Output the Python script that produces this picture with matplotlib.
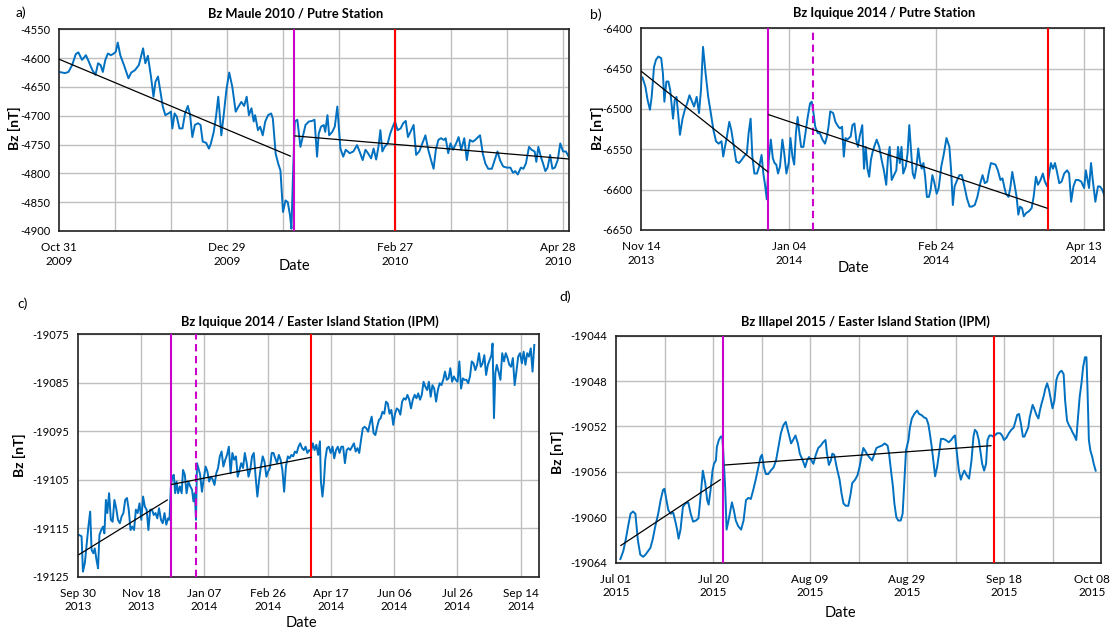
import matplotlib
matplotlib.use("Agg")
import matplotlib.pyplot as plt
import matplotlib.transforms as mtransforms
import numpy as np

plt.rcParams['font.family'] = ['Lato', 'DejaVu Sans']
plt.rcParams['axes.unicode_minus'] = False

# ---------------- Panel a: Bz Maule 2010 / Putre (days since 2009-10-31) ----------------
a_day = [0, 2.0, 3.3, 4.6, 5.9, 6.8, 8.1, 9.5, 10.5, 11.8,
         12.9, 13.8, 14.7, 15.5, 16.4, 17.3, 18.4, 19.4, 20.1, 20.8,
         21.7, 23.0, 24.6, 25.6, 26.9, 28.3, 29.8, 30.6, 31.5, 32.6,
         33.5, 34.2, 35.1, 35.7, 36.8, 37.7, 38.8, 39.7, 40.2, 41.0,
         41.8, 42.7, 43.8, 44.7, 45.7, 46.5, 47.3, 48.2, 49.3, 50.2,
         51.0, 52.2, 53.2, 53.9, 54.9, 55.7, 56.5, 57.0, 57.6, 58.5,
         59.4, 60.4, 61.5, 62.7, 63.7, 64.7, 65.7, 66.6, 67.4, 68.3,
         69.1, 69.6, 70.6, 71.4, 72.3, 73.2, 74.2, 75.3, 75.9, 76.9,
         77.8, 78.6, 79.5, 80.4, 81.2, 82.0, 82.5, 83.0, 83.7, 84.6,
         85.7, 86.5, 87.5, 88.7, 89.8, 90.7, 91.6, 92.2, 93.0, 94.0,
         94.5, 95.3, 95.9, 97.0, 97.9, 98.8, 99.9, 100.9, 101.8, 103.2,
         104.5, 105.8, 106.7, 107.8, 108.8, 109.7, 110.8, 111.7, 112.6, 113.4,
         114.1, 114.8, 115.6, 116.7, 117.6, 118.5, 119.3, 120.2, 121.3, 122.2,
         123.1, 123.9, 124.8, 125.9, 126.8, 127.9, 129.0, 130.1, 131.1, 132.1,
         133.0, 133.8, 134.7, 135.6, 136.7, 137.3, 138.2, 139.0, 139.9, 141.0,
         141.9, 142.8, 143.9, 144.8, 145.9, 146.9, 147.8, 148.8, 149.5, 150.5,
         151.4, 152.4, 153.7, 154.7, 155.7, 156.6, 157.7, 159.0, 160.3, 161.2,
         162.0, 162.9, 164.0, 164.9, 165.8, 166.9, 167.8, 168.9, 169.5, 170.2,
         171.1, 171.9, 172.7, 173.5, 174.4, 175.2, 176.1, 177.1, 178.0, 179.0,
         180.0, 181.0]
a_bz = [-4624, -4626, -4624, -4612, -4593, -4590, -4603, -4595, -4606, -4621,
        -4629, -4609, -4612, -4624, -4603, -4592, -4595, -4592, -4589, -4573,
        -4595, -4612, -4635, -4625, -4621, -4612, -4583, -4609, -4596, -4632,
        -4667, -4641, -4632, -4650, -4684, -4699, -4696, -4693, -4722, -4696,
        -4702, -4722, -4722, -4696, -4683, -4699, -4737, -4716, -4713, -4716,
        -4745, -4747, -4757, -4748, -4728, -4702, -4667, -4696, -4734, -4696,
        -4655, -4625, -4650, -4693, -4684, -4676, -4683, -4667, -4699, -4687,
        -4710, -4699, -4725, -4719, -4734, -4710, -4699, -4696, -4705, -4766,
        -4783, -4795, -4867, -4847, -4850, -4873, -4896, -4812, -4710, -4707,
        -4754, -4737, -4716, -4710, -4709, -4707, -4771, -4731, -4719, -4716,
        -4728, -4699, -4734, -4728, -4719, -4684, -4757, -4771, -4759, -4765,
        -4762, -4751, -4762, -4777, -4759, -4765, -4774, -4757, -4776, -4754,
        -4725, -4762, -4754, -4748, -4731, -4719, -4710, -4725, -4722, -4713,
        -4709, -4737, -4728, -4716, -4768, -4762, -4748, -4734, -4759, -4777,
        -4792, -4759, -4742, -4739, -4742, -4739, -4765, -4748, -4759, -4748,
        -4737, -4759, -4739, -4777, -4742, -4745, -4742, -4737, -4734, -4766,
        -4783, -4792, -4792, -4777, -4762, -4777, -4788, -4790, -4790, -4799,
        -4796, -4802, -4790, -4792, -4783, -4754, -4759, -4762, -4780, -4754,
        -4771, -4783, -4796, -4790, -4768, -4792, -4790, -4777, -4748, -4762,
        -4762, -4771]
a_trend1_x = [0, 82.1]
a_trend1_y = [-4602, -4770]
a_trend2_x = [83.7, 181]
a_trend2_y = [-4735, -4775]
a_magenta = 83.4
a_red = 119.3
a_tick_labels = ['Oct 31\n2009', 'Dec 29\n2009', 'Feb 27\n2010', 'Apr 28\n2010']

# ---------------- Panel b: Bz Iquique 2014 / Putre (days since 2013-11-14) ----------------
b_day = [0.5, 1.5, 2.3, 3.1, 3.7, 4.5, 5.2, 6.0, 7.0, 7.6,
         8.1, 8.8, 9.5, 10.1, 11.1, 11.7, 12.3, 12.9, 13.5, 14.4,
         15.2, 16.0, 16.8, 17.7, 18.4, 19.3, 20.1, 20.8, 21.5, 22.4,
         23.3, 24.2, 25.1, 26.0, 26.9, 27.9, 28.5, 29.1, 29.7, 30.6,
         31.3, 32.2, 33.0, 34.0, 34.9, 35.9, 36.7, 37.3, 38.0, 38.6,
         39.3, 40.2, 41.0, 41.8, 42.4, 43.0, 43.6, 44.3, 45.0, 45.7,
         46.3, 46.9, 47.5, 48.2, 49.0, 49.6, 50.4, 51.2, 51.8, 52.5,
         53.1, 53.7, 54.3, 54.9, 55.5, 56.3, 57.0, 57.7, 58.6, 59.2,
         59.8, 60.4, 61.3, 62.0, 62.9, 63.8, 64.4, 65.0, 65.6, 66.6,
         67.4, 68.4, 69.0, 69.7, 70.3, 70.9, 71.5, 72.1, 72.7, 73.3,
         74.0, 74.6, 75.2, 75.8, 76.7, 77.3, 77.9, 78.5, 79.1, 79.7,
         80.3, 81.0, 81.7, 82.6, 83.4, 84.2, 85.0, 85.6, 86.2, 86.9,
         87.7, 88.5, 89.1, 89.7, 90.3, 90.9, 91.8, 92.4, 93.0, 93.6,
         94.2, 94.8, 95.5, 96.1, 96.7, 97.3, 97.9, 98.5, 99.1, 99.8,
         100.4, 101.0, 101.6, 102.5, 103.2, 104.1, 104.9, 105.9, 106.9, 107.5,
         108.1, 108.7, 109.6, 110.4, 111.2, 112.0, 113.0, 113.9, 114.7, 115.7,
         116.6, 117.6, 118.4, 119.2, 120.0, 120.6, 121.3, 122.1, 122.9, 123.7,
         124.6, 125.3, 125.9, 126.5, 127.4, 128.0, 128.7, 129.5, 130.2, 130.8,
         131.4, 132.1, 132.7, 133.5, 134.4, 135.4, 136.1, 136.9, 137.6, 138.5,
         139.3, 140.0, 140.8, 141.5, 142.1, 142.8, 143.5, 144.2, 145.0, 145.8,
         146.7, 147.7, 148.4, 149.1, 149.9, 150.7, 151.6, 152.6, 153.6, 154.2,
         154.8, 155.3, 156.0, 156.6, 157.5, 158.4, 159.1, 159.9, 160.6]
b_bz = [-6461, -6472, -6489, -6501, -6485, -6448, -6439, -6435, -6437, -6456,
        -6491, -6466, -6466, -6476, -6512, -6489, -6485, -6507, -6532, -6512,
        -6501, -6493, -6483, -6491, -6497, -6485, -6505, -6476, -6423, -6456,
        -6485, -6505, -6526, -6540, -6543, -6540, -6559, -6547, -6536, -6516,
        -6526, -6547, -6565, -6567, -6563, -6558, -6555, -6530, -6512, -6559,
        -6580, -6580, -6571, -6557, -6580, -6594, -6612, -6563, -6538, -6561,
        -6567, -6569, -6580, -6571, -6538, -6553, -6580, -6567, -6536, -6559,
        -6569, -6530, -6510, -6530, -6547, -6547, -6530, -6512, -6493, -6491,
        -6505, -6522, -6530, -6530, -6538, -6543, -6535, -6522, -6503, -6505,
        -6516, -6522, -6524, -6522, -6559, -6536, -6538, -6536, -6534, -6520,
        -6518, -6538, -6547, -6534, -6520, -6574, -6547, -6574, -6584, -6563,
        -6553, -6545, -6538, -6547, -6563, -6576, -6594, -6561, -6547, -6588,
        -6582, -6576, -6547, -6567, -6547, -6580, -6571, -6555, -6520, -6551,
        -6580, -6586, -6571, -6549, -6565, -6574, -6567, -6584, -6609, -6609,
        -6600, -6582, -6590, -6605, -6598, -6571, -6557, -6536, -6547, -6576,
        -6619, -6596, -6588, -6582, -6582, -6594, -6611, -6621, -6621, -6619,
        -6609, -6592, -6582, -6592, -6590, -6578, -6567, -6568, -6569, -6576,
        -6588, -6586, -6596, -6605, -6609, -6598, -6578, -6594, -6609, -6631,
        -6621, -6623, -6633, -6629, -6627, -6623, -6609, -6584, -6594, -6588,
        -6580, -6590, -6596, -6580, -6567, -6574, -6567, -6578, -6592, -6590,
        -6580, -6576, -6580, -6615, -6596, -6588, -6588, -6590, -6598, -6576,
        -6588, -6598, -6567, -6588, -6615, -6596, -6596, -6600, -6607]
b_trend1_x = [0, 44.0]
b_trend1_y = [-6453, -6578]
b_trend2_x = [44.2, 140.8]
b_trend2_y = [-6507, -6623]
b_magenta = 44.0
b_magenta_dashed = 59.6
b_red = 141.0
b_tick_labels = ['Nov 14\n2013', 'Jan 04\n2014', 'Feb 24\n2014', 'Apr 13\n2014']

# ---------------- Panel c: Bz Iquique 2014 / Easter Island (days since 2013-09-30) ----------------
c_day = [0.6, 2.8, 3.9, 5.4, 6.8, 8.2, 9.6, 10.7, 12.1, 13.2,
         14.6, 15.8, 16.9, 18.3, 19.7, 20.8, 22.0, 23.1, 24.5, 25.9,
         27.3, 28.7, 30.1, 31.5, 33.0, 34.4, 35.8, 37.2, 38.6, 40.0,
         41.4, 42.8, 44.2, 45.6, 47.0, 48.5, 49.9, 51.3, 52.7, 54.1,
         55.5, 56.9, 58.3, 59.7, 61.1, 62.5, 63.9, 65.4, 66.8, 68.2,
         69.6, 71.0, 72.1, 73.2, 74.4, 75.5, 76.6, 77.7, 78.9, 80.3,
         81.7, 82.8, 84.2, 85.6, 87.0, 88.5, 89.9, 91.0, 92.1, 93.0,
         93.8, 94.9, 96.3, 97.7, 99.2, 100.6, 102.0, 103.4, 104.8, 106.2,
         107.6, 109.0, 110.4, 111.8, 113.2, 114.6, 116.1, 117.5, 118.9, 120.3,
         121.7, 123.1, 124.5, 125.9, 127.3, 128.7, 130.1, 131.5, 133.0, 134.4,
         135.8, 137.2, 138.6, 140.0, 141.4, 142.8, 144.2, 145.6, 147.0, 148.5,
         149.9, 151.3, 152.7, 154.1, 155.5, 156.9, 158.3, 159.7, 161.1, 162.5,
         163.9, 165.4, 166.8, 168.2, 169.6, 171.0, 172.4, 173.8, 175.2, 176.6,
         178.0, 179.4, 180.8, 182.3, 183.7, 185.1, 186.5, 187.9, 189.3, 190.7,
         191.5, 192.7, 193.8, 194.9, 196.3, 197.7, 199.2, 200.6, 202.0, 203.4,
         204.8, 206.2, 207.6, 209.0, 210.4, 211.8, 213.2, 214.6, 216.1, 217.5,
         218.9, 220.3, 221.7, 223.1, 224.5, 225.9, 227.3, 228.7, 230.1, 231.5,
         233.0, 234.4, 235.8, 237.2, 238.6, 240.0, 241.4, 242.8, 244.2, 245.6,
         247.0, 248.5, 249.9, 251.3, 252.7, 254.1, 255.5, 256.9, 258.3, 259.7,
         261.1, 262.5, 263.9, 265.4, 266.8, 268.2, 269.6, 271.0, 272.4, 273.8,
         275.2, 276.6, 278.0, 279.4, 280.8, 282.3, 283.7, 285.1, 286.5, 287.9,
         289.3, 290.7, 292.1, 293.5, 294.9, 296.3, 297.7, 299.2, 300.6, 302.0,
         303.4, 304.8, 306.2, 307.6, 309.0, 310.4, 311.8, 313.2, 314.6, 316.1,
         317.5, 318.9, 320.3, 321.7, 323.1, 324.5, 325.9, 326.8, 327.9, 329.0,
         330.1, 331.5, 333.0, 334.4, 335.8, 337.2, 338.6, 340.0, 341.4, 342.8,
         344.2, 345.6, 347.0, 348.5, 349.9, 351.3, 352.7, 354.1, 355.5, 356.9,
         358.3, 359.7]
c_bz = [-19116.4, -19116.7, -19124, -19122.2, -19118.5, -19114.7, -19111.6, -19119.5, -19120.2, -19119.2,
        -19121.6, -19123.3, -19116.4, -19115.4, -19114.7, -19116.1, -19109.2, -19111.9, -19107.8, -19113.3,
        -19113.7, -19109.2, -19110.9, -19113.3, -19114, -19112.6, -19111.9, -19109.2, -19108.8, -19111.2,
        -19115.4, -19114.7, -19115.4, -19111.2, -19111.9, -19109.9, -19113.3, -19108.5, -19110.6, -19111.2,
        -19115.4, -19111.2, -19111.2, -19112.3, -19111.9, -19113, -19110.9, -19113.3, -19114, -19111.9,
        -19114.3, -19113, -19113.3, -19106.4, -19104.4, -19104, -19107.8, -19105.4, -19107.8, -19106.4,
        -19107.8, -19103, -19104, -19107.8, -19105.4, -19106.4, -19107.1, -19109.5, -19107.8, -19113.3,
        -19101.6, -19102.6, -19104, -19107.5, -19104.7, -19102.3, -19103.3, -19105.4, -19104.4, -19105,
        -19106.1, -19103.7, -19102.6, -19100.2, -19099.2, -19102.3, -19100.9, -19099.9, -19098.2, -19103.7,
        -19099.5, -19100.9, -19100.2, -19104.4, -19103, -19101.6, -19102.6, -19099.5, -19101.6, -19104.4,
        -19103, -19100.2, -19099.5, -19104.4, -19108.5, -19105, -19102.3, -19100.2, -19101.3, -19104.4,
        -19103.3, -19102.6, -19099.5, -19099.5, -19100.6, -19101.6, -19099.9, -19100.9, -19103, -19107.5,
        -19102.3, -19100.2, -19100.6, -19099.9, -19100.2, -19099.2, -19099.5, -19098.2, -19097.5, -19098.5,
        -19098.9, -19098.2, -19099.5, -19098.9, -19099.2, -19097.5, -19098.9, -19097.8, -19099.9, -19097.1,
        -19105.4, -19108.5, -19105.7, -19100.9, -19098.5, -19098.2, -19099.5, -19098.2, -19100.6, -19098.9,
        -19098.2, -19099.5, -19098.2, -19098.2, -19101.6, -19098.9, -19098.5, -19098.9, -19098.2, -19097.5,
        -19099.2, -19098.5, -19099.5, -19096.8, -19094.4, -19094.1, -19094.4, -19095.1, -19093.4, -19092,
        -19095.4, -19095.8, -19094.1, -19092.7, -19092.3, -19091, -19091.4, -19088.9, -19089.3, -19091.4,
        -19090.6, -19093.7, -19091.4, -19090.3, -19090.6, -19091.6, -19088.9, -19088.2, -19088.5, -19087.5,
        -19088.5, -19090.3, -19088.5, -19087.5, -19088.2, -19087.2, -19088.5, -19087.5, -19084.8, -19085.8,
        -19086.5, -19084.8, -19087.9, -19085.5, -19086.2, -19088.9, -19086.5, -19085.1, -19085.5, -19084.4,
        -19082.7, -19084.4, -19084.1, -19082, -19084.8, -19083.7, -19084.4, -19084.8, -19080.6, -19086.2,
        -19084.1, -19084.4, -19084.4, -19085.1, -19083.7, -19080.6, -19081, -19082.4, -19081.3, -19078.9,
        -19081.7, -19081, -19079.3, -19083.4, -19081.3, -19080.3, -19079.3, -19076.9, -19092.3, -19083,
        -19081.3, -19082.7, -19084.4, -19078.9, -19080.6, -19078.9, -19079.9, -19081.3, -19081.7, -19079.9,
        -19085.5, -19082.7, -19079.6, -19078.9, -19081, -19078.6, -19081.3, -19078.9, -19079.6, -19077.9,
        -19082.7, -19077.2]
c_trend1_x = [0.6, 70.4]
c_trend1_y = [-19120.5, -19109.2]
c_trend2_x = [73.8, 183.7]
c_trend2_y = [-19106.0, -19100.4]
c_magenta = 73.5
c_magenta_dashed = 93.0
c_red = 183.7
c_tick_labels = ['Sep 30\n2013', 'Nov 18\n2013', 'Jan 07\n2014', 'Feb 26\n2014',
                 'Apr 17\n2014', 'Jun 06\n2014', 'Jul 26\n2014', 'Sep 14\n2014']

# ---------------- Panel d: Bz Illapel 2015 / Easter Island (days since 2015-07-01) ----------------
d_day = [0.9, 1.5, 2.0, 2.5, 3.0, 3.5, 4.0, 4.5, 5.0, 5.6,
         6.1, 6.6, 7.1, 7.6, 8.1, 8.7, 9.2, 9.7, 10.0, 10.4,
         10.8, 11.3, 11.8, 12.3, 12.6, 12.9, 13.3, 13.8, 14.3, 14.9,
         15.4, 15.9, 16.5, 17.0, 17.5, 17.9, 18.4, 18.8, 19.1, 19.5,
         19.9, 20.2, 20.6, 20.8, 21.2, 21.6, 21.9, 22.1, 22.5, 22.8,
         23.2, 23.6, 23.9, 24.3, 24.7, 25.2, 25.8, 26.3, 26.8, 27.3,
         27.8, 28.3, 28.8, 29.3, 29.8, 30.1, 30.5, 30.9, 31.4, 31.9,
         32.5, 33.0, 33.5, 34.0, 34.5, 35.0, 35.3, 35.7, 36.1, 36.5,
         37.0, 37.5, 37.9, 38.5, 39.0, 39.4, 39.8, 40.3, 40.7, 41.2,
         41.7, 42.2, 42.7, 43.2, 43.5, 43.9, 44.3, 44.6, 45.0, 45.5,
         46.1, 46.5, 46.9, 47.4, 47.9, 48.4, 48.7, 49.3, 49.8, 50.2,
         50.6, 51.0, 51.3, 51.7, 52.2, 52.8, 53.2, 53.7, 54.2, 54.8,
         55.4, 56.0, 56.3, 56.7, 57.1, 57.4, 57.8, 58.2, 58.7, 59.1,
         59.4, 59.8, 60.3, 60.6, 61.0, 61.5, 62.1, 62.5, 63.0, 63.5,
         64.0, 64.4, 64.7, 65.1, 65.5, 65.8, 66.2, 66.6, 67.0, 67.5,
         68.0, 68.6, 69.1, 69.6, 69.9, 70.3, 70.7, 71.1, 71.4, 71.8,
         72.3, 72.8, 73.3, 73.7, 74.0, 74.4, 74.8, 75.1, 75.5, 75.9,
         76.3, 76.6, 77.0, 77.4, 77.8, 78.1, 78.6, 79.2, 79.6, 80.0,
         80.5, 81.0, 81.5, 82.0, 82.4, 82.7, 83.1, 83.5, 83.9, 84.2,
         84.6, 85.0, 85.3, 85.9, 86.2, 86.7, 87.1, 87.4, 87.8, 88.2,
         88.5, 88.9, 89.3, 89.7, 90.0, 90.4, 90.8, 91.1, 91.5, 91.9,
         92.3, 92.6, 93.0, 93.4, 93.8, 94.1, 94.5, 94.9, 95.2, 95.6,
         96.0, 96.3, 96.7, 97.0, 97.2, 97.5, 97.8, 98.2, 98.5, 98.9]
d_bz = [-19063.7, -19063, -19062, -19060.8, -19059.7, -19059.5, -19059.7, -19062, -19063.3, -19063.5,
        -19063.3, -19063, -19062.7, -19061.9, -19060.8, -19059.7, -19058.5, -19057.6, -19057.5, -19058.5,
        -19059.4, -19059.7, -19059.6, -19060.5, -19061.1, -19061.9, -19061.1, -19059.1, -19058.8, -19058.7,
        -19059.7, -19060.4, -19060.3, -19060.1, -19057.9, -19055.9, -19057, -19058.5, -19058.9, -19057.6,
        -19055.9, -19055.3, -19055, -19053.8, -19053.2, -19052.9, -19052.9, -19054.1, -19057.3, -19061.1,
        -19060.3, -19059.4, -19058.7, -19059.4, -19060.3, -19060.8, -19061.1, -19060.3, -19058.5, -19058.3,
        -19058.4, -19057.6, -19056.7, -19055.7, -19054.7, -19054.5, -19055.6, -19056.2, -19056.2, -19055.9,
        -19055.6, -19055, -19053.8, -19052.6, -19051.9, -19051.6, -19052.1, -19052.8, -19053.5, -19053.2,
        -19052.8, -19053.5, -19054.4, -19055, -19055.6, -19055, -19054.7, -19055, -19055.3, -19054.5,
        -19053.9, -19053.7, -19053.4, -19053.2, -19054.4, -19055.4, -19055, -19054.4, -19054.5, -19055.6,
        -19056.7, -19057.9, -19058.8, -19059, -19059, -19057.9, -19057, -19056.7, -19056.3, -19055.6,
        -19054.7, -19053.9, -19054.1, -19054.4, -19054.7, -19055, -19054.5, -19053.9, -19053.8, -19053.7,
        -19053.5, -19053.7, -19054.4, -19055.9, -19057.3, -19058.8, -19060, -19060.3, -19060.3, -19059.7,
        -19057.3, -19054.1, -19053.2, -19052.1, -19051.3, -19050.9, -19050.6, -19050.9, -19051, -19051.2,
        -19051.3, -19051.8, -19052.6, -19053.8, -19055.3, -19056.4, -19055.6, -19054.4, -19053.1, -19053.1,
        -19053.2, -19053.4, -19053.2, -19052.9, -19052.8, -19054.4, -19055.9, -19056.7, -19056.3, -19055.9,
        -19056.3, -19056.6, -19055, -19052.9, -19052.3, -19052.5, -19053.2, -19054.1, -19055.3, -19055.9,
        -19055.3, -19053.2, -19052.8, -19052.8, -19052.9, -19052.8, -19052.6, -19052.6, -19052.8, -19053.2,
        -19053, -19052.6, -19052.3, -19052.1, -19051.5, -19051, -19050.9, -19051.8, -19052.9, -19052.9,
        -19052.5, -19052.1, -19051.2, -19050.1, -19050.4, -19051, -19051.3, -19050.6, -19049.9, -19049.3,
        -19048.7, -19048.2, -19048.8, -19049.7, -19050.4, -19049.7, -19047.9, -19047.5, -19047.2, -19047.1,
        -19047.4, -19049.7, -19051.5, -19051.9, -19052.2, -19052.5, -19052.8, -19053.2, -19051.5, -19049.4,
        -19048.1, -19046.8, -19045.9, -19045.9, -19048.5, -19053.2, -19054.1, -19054.7, -19055.3, -19055.9]
d_trend1_x = [1.0, 21.5]
d_trend1_y = [-19062.5, -19056.7]
d_trend2_x = [22.5, 77.3]
d_trend2_y = [-19055.4, -19053.7]
d_magenta = 22.0
d_red = 78.0
d_tick_labels = ['Jul 01\n2015', 'Jul 20\n2015', 'Aug 09\n2015', 'Aug 29\n2015',
                 'Sep 18\n2015', 'Oct 08\n2015']

# ---------------- drawing ----------------
W, H = 1116, 637
fig = plt.figure(figsize=(W / 100, H / 100), dpi=100)
fig.patch.set_facecolor('white')

BLUE = '#0070C0'
MAG = '#CC00CC'
RED = '#FF0000'
GRID = '#BFBFBF'


def rect(l, t, r, b):
    return [l / W, 1 - b / H, (r - l) / W, (b - t) / H]


def ftext(x, y, s, **kw):
    fig.text(x / W, 1 - y / H, s, **kw)


def make_panel(box, days, bz, xlim, ylim, ystep, xticks, xlabels, xgrid,
               trends, vlines, last_shift=0):
    ax = fig.add_axes(rect(*box))
    ax.set_xlim(*xlim)
    ax.set_ylim(*ylim)
    yt = np.arange(ylim[0], ylim[1] + ystep / 2, ystep)
    ax.set_yticks(yt)
    ax.set_yticklabels([str(int(v)) for v in yt])
    ax.set_xticks(xticks)
    ax.set_xticklabels(xlabels, linespacing=1.3)
    ax.grid(False)
    for g in xgrid:
        ax.axvline(g, color=GRID, lw=1.0, zorder=0)
    for yv in yt:
        ax.axhline(yv, color=GRID, lw=1.0, zorder=0)
    ax.tick_params(axis='both', which='both', length=0)
    ax.tick_params(axis='y', labelsize=8, pad=6.5)
    ax.tick_params(axis='x', labelsize=8.5, pad=8)
    for s in ax.spines.values():
        s.set_color('#202020')
        s.set_linewidth(1.2)
    ax.plot(days, bz, color=BLUE, lw=1.4, zorder=2, solid_joinstyle='round')
    for x, col, ls in vlines:
        ax.axvline(x, color=col, lw=1.5, ls=ls, zorder=3)
    for tx, ty in trends:
        ax.plot(tx, ty, color='black', lw=0.9, zorder=4)
    if last_shift:
        lab = ax.get_xticklabels()[-1]
        off = mtransforms.ScaledTranslation(last_shift / 100, 0, fig.dpi_scale_trans)
        lab.set_transform(lab.get_transform() + off)
    return ax


# Panel a
make_panel((59.2, 29.3, 568.7, 231), a_day, a_bz, (0, 181), (-4900, -4550), 50,
           [0, 179 / 3, 2 * 179 / 3, 179], a_tick_labels,
           np.linspace(0, 179, 10)[1:],
           [(a_trend1_x, a_trend1_y), (a_trend2_x, a_trend2_y)],
           [(a_magenta, MAG, '-'), (a_red, RED, '-')], last_shift=-5)

# Panel b
make_panel((641, 28.3, 1104.3, 230), b_day, b_bz, (0, 160.6), (-6650, -6400), 50,
           [0, 51.2, 102.3, 153.4], b_tick_labels, [51.2, 102.3, 153.4],
           [(b_trend1_x, b_trend1_y), (b_trend2_x, b_trend2_y)],
           [(b_magenta, MAG, '-'), (b_magenta_dashed, MAG, (0, (3.5, 2.2))),
            (b_red, RED, '-')])

# Panel c
c_ticks = [k * 49.85 for k in range(8)]
make_panel((78, 334.3, 539, 576.5), c_day, c_bz, (0, 363.4), (-19125, -19075), 10,
           c_ticks, c_tick_labels, c_ticks[1:],
           [(c_trend1_x, c_trend1_y), (c_trend2_x, c_trend2_y)],
           [(c_magenta, MAG, '-'), (c_magenta_dashed, MAG, (0, (3.5, 2.2))),
            (c_red, RED, '-')])

# Panel d
make_panel((616, 335.7, 1101, 562.5), d_day, d_bz, (0, 100), (-19064, -19044), 4,
           [0, 20, 40, 60, 80, 100], d_tick_labels, list(range(10, 101, 10)),
           [(d_trend1_x, d_trend1_y), (d_trend2_x, d_trend2_y)],
           [(d_magenta, MAG, '-'), (d_red, RED, '-')], last_shift=-9)

# Titles, labels
tkw = dict(ha='center', va='center', fontsize=9.3, fontweight='bold')
ftext(296, 14, 'Bz Maule 2010 / Putre Station', **tkw)
ftext(884, 13, 'Bz Iquique 2014 / Putre Station', **tkw)
ftext(309.5, 322, 'Bz Iquique 2014 / Easter Island Station (IPM)', **tkw)
ftext(865, 322, 'Bz Illapel 2015 / Easter Island Station (IPM)', **tkw)

ykw = dict(ha='center', va='center', fontsize=10, fontweight='bold', rotation=90)
ftext(14, 128, 'Bz [nT]', **ykw)
ftext(597, 128, 'Bz [nT]', **ykw)
ftext(19, 455, 'Bz [nT]', **ykw)
ftext(557, 452, 'Bz [nT]', **ykw)

dkw = dict(ha='center', va='center', fontsize=10.5)
ftext(294, 266, 'Date', **dkw)
ftext(853, 268, 'Date', **dkw)
ftext(301, 623, 'Date', **dkw)
ftext(840.5, 613, 'Date', **dkw)

pkw = dict(ha='center', va='center', fontsize=10)
ftext(21, 13, 'a)', **pkw)
ftext(595.5, 15, 'b)', **pkw)
ftext(23, 304, 'c)', **pkw)
ftext(565, 297, 'd)', **pkw)

fig.savefig('out.png', dpi=100, facecolor='white')
